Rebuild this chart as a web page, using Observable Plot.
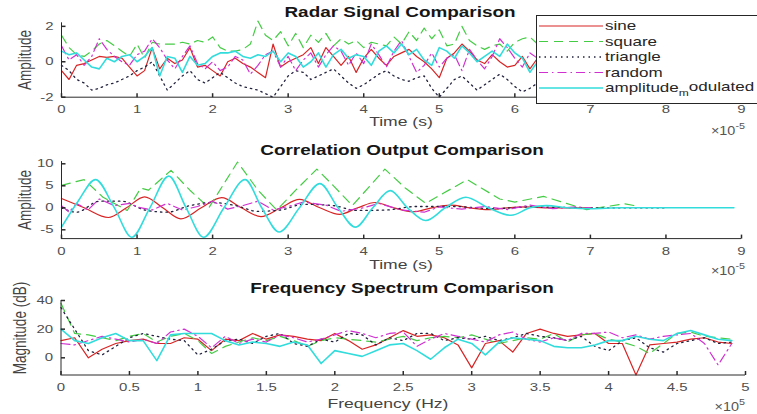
<!DOCTYPE html>
<html><head><meta charset="utf-8">
<script src="https://cdn.jsdelivr.net/npm/d3@7"></script>
<script src="https://cdn.jsdelivr.net/npm/@observablehq/plot@0.6"></script>
<style>
html,body{margin:0;padding:0;background:#fff;}
#fig{position:relative;width:757px;height:414px;overflow:hidden;background:#fff;font-family:"Liberation Sans",Arial,Helvetica,sans-serif;color:#262626;}
.abs{position:absolute;white-space:nowrap;line-height:1;}
.ttl{font-weight:bold;font-size:14px;color:#161616;transform:translate(-50%,-50%) scaleX(1.35);}
.xl{font-size:13.5px;color:#444;transform:translate(-50%,-50%) scaleX(1.3);}
.yl{font-size:13.5px;color:#444;transform:translate(-50%,-50%) rotate(-90deg) scaleY(1.3);}
.mult{font-size:12px;color:#555;transform-origin:right center;transform:translate(-100%,-50%) scaleX(1.2);}
.mult sup{font-size:9px;vertical-align:6px;line-height:1;}
#legend{position:absolute;left:536px;top:15px;width:240px;height:87px;border:1px solid #262626;background:#fff;}
</style></head><body><div id="fig"></div>
<script>
// ---------- Panel 1: Radar Signal Comparison (time in units of 1e-5 s, step 0.1) ----------
const radarStep = 0.1;
const radarSine = [-0.5,-1.0,-0.2,-0.1,0.1,0.3,0.25,0.3,0.2,-0.3,
 -0.8,-0.5,0.8,-0.4,0.2,-0.1,0.1,0.8,-0.3,-0.2,
 -0.5,-0.8,0.0,0.2,-0.1,-0.3,-0.6,-0.9,1.0,-0.3,
 0.0,0.2,0.4,0.8,-0.1,0.8,0.3,-0.2,0.3,-0.6,
 0.2,0.7,0.2,-0.2,0.3,0.5,0.7,0.3,0.0,-0.4,
 -0.9,0.2,0.5,1.0,0.6,0.1,-0.1,0.4,0.0,-0.3,
 -0.2,0.3,-0.4,0.2];
const radarSquare = [1.5,0.8,0.4,0.3,0.6,1.0,1.2,0.9,0.6,0.3,
 1.0,0.2,1.1,1.0,1.0,1.0,1.1,1.0,1.2,1.1,
 1.4,0.8,0.6,0.6,0.7,1.0,2.3,1.5,1.2,1.7,
 0.9,1.6,0.8,1.5,1.1,1.6,0.9,1.3,1.0,1.2,
 0.8,1.1,1.0,0.9,1.4,1.0,1.7,1.2,1.9,1.3,
 1.8,0.9,1.0,2.0,1.2,0.9,0.7,0.9,1.0,0.6,
 1.1,1.3,1.4,1.0];
const radarTriangle = [-0.2,-0.5,-1.0,-1.2,-1.6,-1.5,-1.3,-1.2,-1.0,-0.8,
 -0.5,-0.3,0.0,-0.8,-1.6,-1.2,-0.8,-0.5,-1.0,-1.2,
 -0.9,-0.6,-0.9,-1.2,-1.4,-1.5,-1.6,-1.8,-2.0,-1.4,
 -0.8,-0.5,-0.6,-1.0,-0.8,-0.6,-0.4,-0.8,-1.2,-1.5,
 -1.3,-1.0,-0.7,-0.5,-0.8,-1.0,-1.1,-0.9,-0.8,-1.5,
 -2.0,-1.5,-1.0,-0.8,-1.2,-1.6,-1.3,-1.0,-0.7,-1.0,
 -1.4,-1.7,-1.5,-1.2];
const radarRandom = [0.9,0.1,0.4,-0.2,0.3,1.3,0.7,0.3,0.0,-0.2,
 0.4,0.6,1.3,0.8,0.1,-0.4,0.3,0.9,-0.1,-0.4,
 0.0,-0.5,-0.3,0.3,0.1,-0.7,-0.2,0.4,0.6,-0.3,
 0.3,-0.5,0.1,0.5,-0.3,0.4,0.9,0.6,-0.2,0.5,
 -0.1,1.0,0.4,-0.3,0.6,1.2,0.3,-0.6,-0.2,0.5,
 -0.3,0.2,0.4,-0.5,0.7,0.1,-0.4,0.3,1.3,0.8,
 0.2,-0.3,0.5,0.2];
const radarAM = [0.6,0.4,0.5,0.1,-0.3,-0.4,0.2,0.0,0.3,0.4,
 0.0,0.3,0.8,-0.8,0.3,0.2,-0.6,0.3,-0.2,-0.1,
 0.3,0.5,0.5,0.6,0.3,0.2,0.4,0.3,0.6,0.0,
 0.5,0.3,-0.3,0.0,0.5,-0.3,0.4,0.7,0.2,0.4,
 0.3,-0.2,0.6,0.9,0.5,1.0,0.4,0.7,0.1,-0.2,
 0.8,0.6,0.2,0.9,0.5,0.0,0.3,0.6,0.3,1.0,
 0.5,0.2,-0.6,0.0];

// ---------- Panel 2: Correlation Output Comparison ([time 1e-5 s, amplitude]) ----------
const corrSine = [[0,2.1],[0.3,0],[0.62,-2.2],[0.86,0],[1.1,2.5],[1.34,0],[1.58,-2.5],[1.85,0],
 [2.12,2.3],[2.38,0],[2.64,-2.0],[2.9,0],[3.15,1.9],[3.42,0],[3.68,-1.5],[3.92,0],[4.15,1.2],
 [4.4,0],[4.65,-0.9],[4.9,0],[5.15,0.6],[5.4,0],[5.65,-0.4],[5.9,0],[6.15,0.2],[6.4,0],[7.0,0]];
const corrSquare = [[0,5.1],[0.3,6.4],[0.55,2.4],[0.87,-0.6],[1.05,4.5],[1.15,4.0],[1.45,8.5],
 [1.7,4.0],[1.95,0],[2.33,10.4],[2.6,4.0],[2.85,-0.5],[3.1,4.0],[3.38,8.8],[3.6,5.0],[3.85,0.5],
 [4.28,8.8],[4.55,4.5],[4.82,1.0],[5.37,6.4],[5.8,2.0],[6.0,1.3],[6.38,2.6],[6.95,-0.4],[7.45,0.9],[7.65,0.3]];
const corrTriangle = [[0,0],[0.2,-1.0],[0.5,1.5],[0.8,1.5],[1.1,-0.5],[1.4,-1.0],[1.7,0.5],[2.0,1.2],
 [2.3,0.5],[2.6,-0.8],[2.9,-0.5],[3.2,0.8],[3.6,0.5],[3.9,-0.6],[4.3,-0.5],[4.7,0.3],[5.2,0.3],
 [5.7,-0.2],[6.2,0.2],[7.0,0],[8.0,0]];
const corrRandom = [[0,0.5],[0.1,-1.0],[0.2,1.0],[0.35,-0.5],[0.5,2.0],[0.7,0.5],[0.9,1.0],[1.0,0.2],
 [1.2,-0.5],[1.4,1.0],[1.6,-0.5],[1.8,0.3],[2.0,1.5],[2.2,-0.3],[2.4,0.5],[2.6,1.5],[2.8,-0.5],
 [3.0,0.3],[3.2,1.3],[3.5,0.6],[3.7,-0.8],[4.0,0],[4.2,1.0],[4.5,-0.5],[4.8,-1.0],[5.0,0.2],
 [5.3,-0.3],[5.6,0.3],[5.9,-0.4],[6.2,0.6],[6.5,-0.2],[6.8,0.2],[7.0,0]];
const corrAM = [[0,-4.4],[0.22,1.5],[0.45,6.4],[0.7,0],[0.93,-6.7],[1.17,0],[1.42,7.2],[1.65,0],
 [1.88,-6.7],[2.15,0],[2.43,6.4],[2.65,0],[2.88,-5.5],[3.15,0],[3.42,5.5],[3.66,0],[3.89,-4.4],
 [4.12,0],[4.35,3.9],[4.58,0],[4.82,-2.9],[5.08,0],[5.35,2.4],[5.65,0],[5.95,-1.7],[6.2,0],
 [6.42,0.5],[6.7,0],[7.0,-0.2],[7.4,0],[8.9,0]];

// ---------- Panel 3: Frequency Spectrum Comparison (frequency 1e5 Hz, step 0.1; dB) ----------
const specStep = 0.1;
const specSine = [12,14,0,6,10,12,13,10,10,14, 13,5,13,12,17,13,16,15,13,12,
 17,12,6,9,14,19,15,16,14,9, -7,10,12,4,17,20,17,15,16,17, 10,10,-12,9,10,11,13,14,11,10];
const specSquare = [38,17,16,14,12,15,17,11,15,17, 12,3,8,11,14,12,15,12,8,12,
 14,13,12,11,13,15,12,14,15,14, 16,13,10,12,14,13,17,11,16,17, 13,11,8,3,10,17,18,15,14,13];
const specTriangle = [35,20,5,2,8,14,17,15,13,12, 2,6,12,13,10,15,17,10,8,13,
 11,17,16,9,14,12,17,17,12,14, 13,15,12,14,17,15,14,12,15,8, 5,12,14,7,4,10,12,14,10,11];
const specRandom = [10,9,12,15,13,11,13,10,18,20, 15,7,15,10,13,11,16,14,11,13,
 16,19,17,14,17,18,8,13,17,15, 13,11,16,18,13,11,14,12,17,17, 18,14,16,13,15,16,17,10,-5,10];
const specAM = [20,12,10,14,17,12,12,-2,16,17, 17,17,12,9,11,10,8,11,9,-4,
 5,3,1,5,9,10,5,-1,7,13, 10,2,11,14,13,12,8,7,7,9, 12,12,15,13,12,17,19,16,13,12];

// ---------- tick values ----------
const timeTicks = [0,1,2,3,4,5,6,7,8,9];
const freqTicks = [0,0.5,1,1.5,2,2.5,3,3.5,4,4.5,5];
const radarYTicks = [-2,0,2];
const corrYTicks = [-5,0,5,10];
const specYTicks = [0,20,40];

// ---------- series styling ----------
const seriesNames = ["sine","square","triangle","random","amplitude_modulated"];
const seriesColors = ["#d82424","#45cc45","#23233f","#d030d0","#33dcdc"];
const seriesDash = [null,"9,6","1.5,4","9,4,1.5,4",null];
const seriesWidth = [1.2,1.2,1.3,1.2,1.6];

const FONT = '"Liberation Sans", Arial, Helvetica, sans-serif';
const axisColor = "#2a2a2a";
const fig = document.getElementById("fig");

const tickUp = {draw(ctx, size){const l = Math.sqrt(size/Math.PI); ctx.moveTo(0,0); ctx.lineTo(0,-l);}};
const tickRight = {draw(ctx, size){const l = Math.sqrt(size/Math.PI); ctx.moveTo(0,0); ctx.lineTo(l,0);}};

function stretchTexts(svg, k){
  svg.querySelectorAll("text").forEach(t => {
    const w = t.getComputedTextLength();
    if (w > 0) { t.setAttribute("textLength", w*k); t.setAttribute("lengthAdjust","spacingAndGlyphs"); }
  });
}

function makePanel(cfg){
  const lines = cfg.series.map((s,k) => {
    const o = {x: cfg.xAcc, y: cfg.yAcc, stroke: seriesColors[k], strokeWidth: seriesWidth[k],
      curve: cfg.curves ? cfg.curves[k] : "linear"};
    if (seriesDash[k]) o.strokeDasharray = seriesDash[k];
    return Plot.line(s, o);
  });
  const svg = Plot.plot({
    width: 757, height: cfg.height,
    marginLeft: cfg.ml, marginRight: cfg.mr, marginTop: cfg.mt, marginBottom: cfg.mb,
    x: {domain: cfg.xDomain, label: null},
    y: {domain: cfg.yDomain, label: null},
    style: {fontFamily: FONT, fontSize: "11.5px", color: "#505050", background: "transparent", overflow: "visible"},
    marks: [
      ...lines,
      Plot.ruleY([cfg.yDomain[0]], {stroke: axisColor}),
      Plot.ruleX([cfg.xDomain[0]], {stroke: axisColor}),
      Plot.dot(cfg.xTicks, {x: d => d, y: () => cfg.yDomain[0], symbol: tickUp, r: 4, stroke: axisColor, fill: "none"}),
      Plot.dot(cfg.yTicks, {x: () => cfg.xDomain[0], y: d => d, symbol: tickRight, r: 4, stroke: axisColor, fill: "none"}),
      Plot.axisX({ticks: cfg.xTicks, tickSize: 0, tickPadding: 8, tickFormat: d => String(d), label: null}),
      Plot.axisY({ticks: cfg.yTicks, tickSize: 0, tickPadding: 8, tickFormat: d => String(d), label: null})
    ]
  });
  svg.style.position = "absolute";
  svg.style.left = "0px";
  svg.style.top = cfg.top + "px";
  fig.appendChild(svg);
  stretchTexts(svg, 1.3);
}

makePanel({top: 0, height: 120, ml: 61, mr: 16, mt: 22.3, mb: 23.3,
  xDomain: [0, 9], yDomain: [-2, 2.2], xTicks: timeTicks, yTicks: radarYTicks,
  series: [radarSine, radarSquare, radarTriangle, radarRandom, radarAM],
  xAcc: (d, i) => i * radarStep, yAcc: d => d});

makePanel({top: 140, height: 125, ml: 61, mr: 16, mt: 21.1, mb: 26.9,
  xDomain: [0, 9], yDomain: [-7, 10.5], xTicks: timeTicks, yTicks: corrYTicks,
  series: [corrSine, corrSquare, corrTriangle, corrRandom, corrAM],
  curves: ["monotone-x","linear","monotone-x","linear","monotone-x"],
  xAcc: d => d[0], yAcc: d => d[1]});

makePanel({top: 280, height: 110, ml: 60.5, mr: 12, mt: 20, mb: 15.5,
  xDomain: [0, 5], yDomain: [-12, 40], xTicks: freqTicks, yTicks: specYTicks,
  series: [specSine, specSquare, specTriangle, specRandom, specAM],
  xAcc: (d, i) => i * specStep, yAcc: d => d});

function addText(html, x, y, cls){
  const d = document.createElement("div");
  d.className = "abs " + cls;
  d.innerHTML = html;
  d.style.left = x + "px";
  d.style.top = y + "px";
  fig.appendChild(d);
}
addText("Radar Signal Comparison", 400, 12, "ttl");
addText("Correlation Output Comparison", 402, 150, "ttl");
addText("Frequency Spectrum Comparison", 402, 288, "ttl");
addText("Time (s)", 401, 122, "xl");
addText("Time (s)", 401, 265, "xl");
addText("Frequency (Hz)", 388, 404, "xl");
addText("Amplitude", 25, 60, "yl");
addText("Amplitude", 25, 200, "yl");
addText("Magnitude (dB)", 20, 328, "yl");
addText("&times;10<sup>-5</sup>", 745, 129, "mult");
addText("&times;10<sup>-5</sup>", 745, 269, "mult");
addText("&times;10<sup>5</sup>", 745, 405, "mult");

// ---------- legend ----------
const leg = document.createElement("div");
leg.id = "legend";
fig.appendChild(leg);
const lsvg = d3.select(leg).append("svg").attr("width", 240).attr("height", 87)
  .style("position", "absolute").style("left", "0px").style("top", "0px");
seriesNames.forEach((name, k) => {
  const y = 10 + k * 15.5;
  const ln = lsvg.append("line").attr("x1", 2).attr("x2", 66).attr("y1", y).attr("y2", y)
    .attr("stroke", seriesColors[k]).attr("stroke-width", seriesWidth[k]);
  if (seriesDash[k]) ln.attr("stroke-dasharray", seriesDash[k]);
  const g = lsvg.append("g").attr("transform", `translate(68,${y}) scale(1.42,1)`);
  const t = g.append("text").attr("x", 0).attr("y", 0).attr("dy", "0.35em")
    .attr("font-family", FONT).attr("font-size", 12).attr("fill", "#262626");
  const parts = name.split("_");
  if (parts.length === 2) {
    t.append("tspan").text(parts[0]);
    t.append("tspan").attr("font-size", 8.5).attr("dy", "0.45em").text(parts[1][0]);
    t.append("tspan").attr("dy", "-0.45em").text(parts[1].slice(1));
  } else {
    t.text(name);
  }
});
</script></body></html>
